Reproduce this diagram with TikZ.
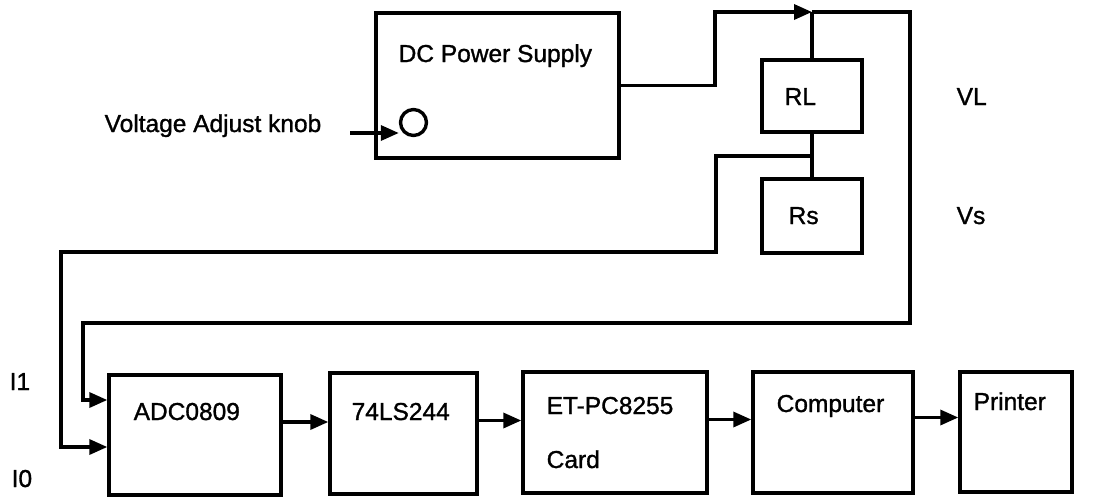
\documentclass[tikz,border=0pt]{standalone}
\usepackage{fontspec}
\setmainfont[FakeBold=1.2]{Liberation Sans}
\usepackage{tikz}
\usetikzlibrary{arrows.meta}

\begin{document}
\begin{tikzpicture}[x=1pt, y=-1pt, line width=3.4pt,
  box/.style={draw, rectangle, inner sep=0pt},
  lbl/.style={anchor=base west, inner sep=0pt, font=\fontsize{24.5}{28}\selectfont},
  arr/.style={-{Triangle[length=18pt, width=15pt]}}]
  \useasboundingbox (0,0) rectangle (1114,498);
  % upper part: supply and resistors
  \node[box, minimum width=243pt, minimum height=145pt] (dc) at (497.5,85.5) {};
  \node[circle, draw, inner sep=0pt, minimum size=26pt] (knob) at (413.5,122.5) {};
  \node[box, minimum width=100pt, minimum height=72pt] (rl) at (812,96) {};
  \node[box, minimum width=100pt, minimum height=74pt] (rs) at (812,216) {};
  \node[lbl] (dctxt) at (397,62) {DC Power Supply};
  \node[lbl] (knobtxt) at (103,132) {Voltage Adjust knob};
  \node[lbl] (rltxt) at (783,105) {RL};
  \node[lbl] (rstxt) at (787,224) {Rs};
  \node[lbl] (vl) at (955,105) {VL};
  \node[lbl] (vs) at (955,224) {Vs};
  % lower part: the chain
  \node[box, minimum width=172pt, minimum height=120pt] (adc) at (195,435) {};
  \node[box, minimum width=147pt, minimum height=121pt] (buf) at (403.5,433.5) {};
  \node[box, minimum width=184pt, minimum height=121pt] (card) at (615,432.5) {};
  \node[box, minimum width=160pt, minimum height=121pt] (pc) at (833,432.5) {};
  \node[box, minimum width=112pt, minimum height=120pt] (prn) at (1016,432) {};
  \node[lbl] (adctxt) at (132,420) {ADC0809};
  \node[lbl] (buftxt) at (350,420) {74LS244};
  \node[lbl] (cardtxt) at (545,414) {ET-PC8255};
  \node[lbl] (cardtxt2) at (545,468) {Card};
  \node[lbl] (pctxt) at (775,412) {Computer};
  \node[lbl] (prntxt) at (972,410) {Printer};
  \node[lbl] (i1) at (8,390) {I1};
  \node[lbl] (i0) at (10,487) {I0};

  \coordinate (kin) at (350,133);
  \coordinate (bend) at (715,12);
  \coordinate (top) at (812,12);
  \coordinate (tr) at (910,12);
  \coordinate (br) at (910,323);
  \coordinate (lp1) at (83,323);
  \coordinate (mid) at (812,156);
  \coordinate (jog) at (716,252);
  \coordinate (lp0) at (61,252);
  \coordinate (in1) at ([yshift=35pt]adc.west);
  \coordinate (in0) at ([yshift=-12pt]adc.west);

  \draw[arr] (kin) -- (kin -| knob.west);
  \draw[arr] (dc.east) -| (bend) -- (top);
  \draw (top) -- (rl.north);
  \draw (rl.south) -- (rs.north);
  \draw[arr] (top) -- (tr) -- (br) -- (lp1) |- (in1);
  \draw[arr] (mid) -| (jog) -- (lp0) |- (in0);
  \draw[arr] ([yshift=13pt]adc.east) -- ([yshift=13pt]adc.east -| buf.west);
  \draw[arr] ([yshift=13pt]buf.east) -- ([yshift=13pt]buf.east -| card.west);
  \draw[arr] ([yshift=13pt]card.east) -- ([yshift=13pt]card.east -| pc.west);
  \draw[arr] ([yshift=15pt]pc.east) -- ([yshift=15pt]pc.east -| prn.west);
\end{tikzpicture}
\end{document}
